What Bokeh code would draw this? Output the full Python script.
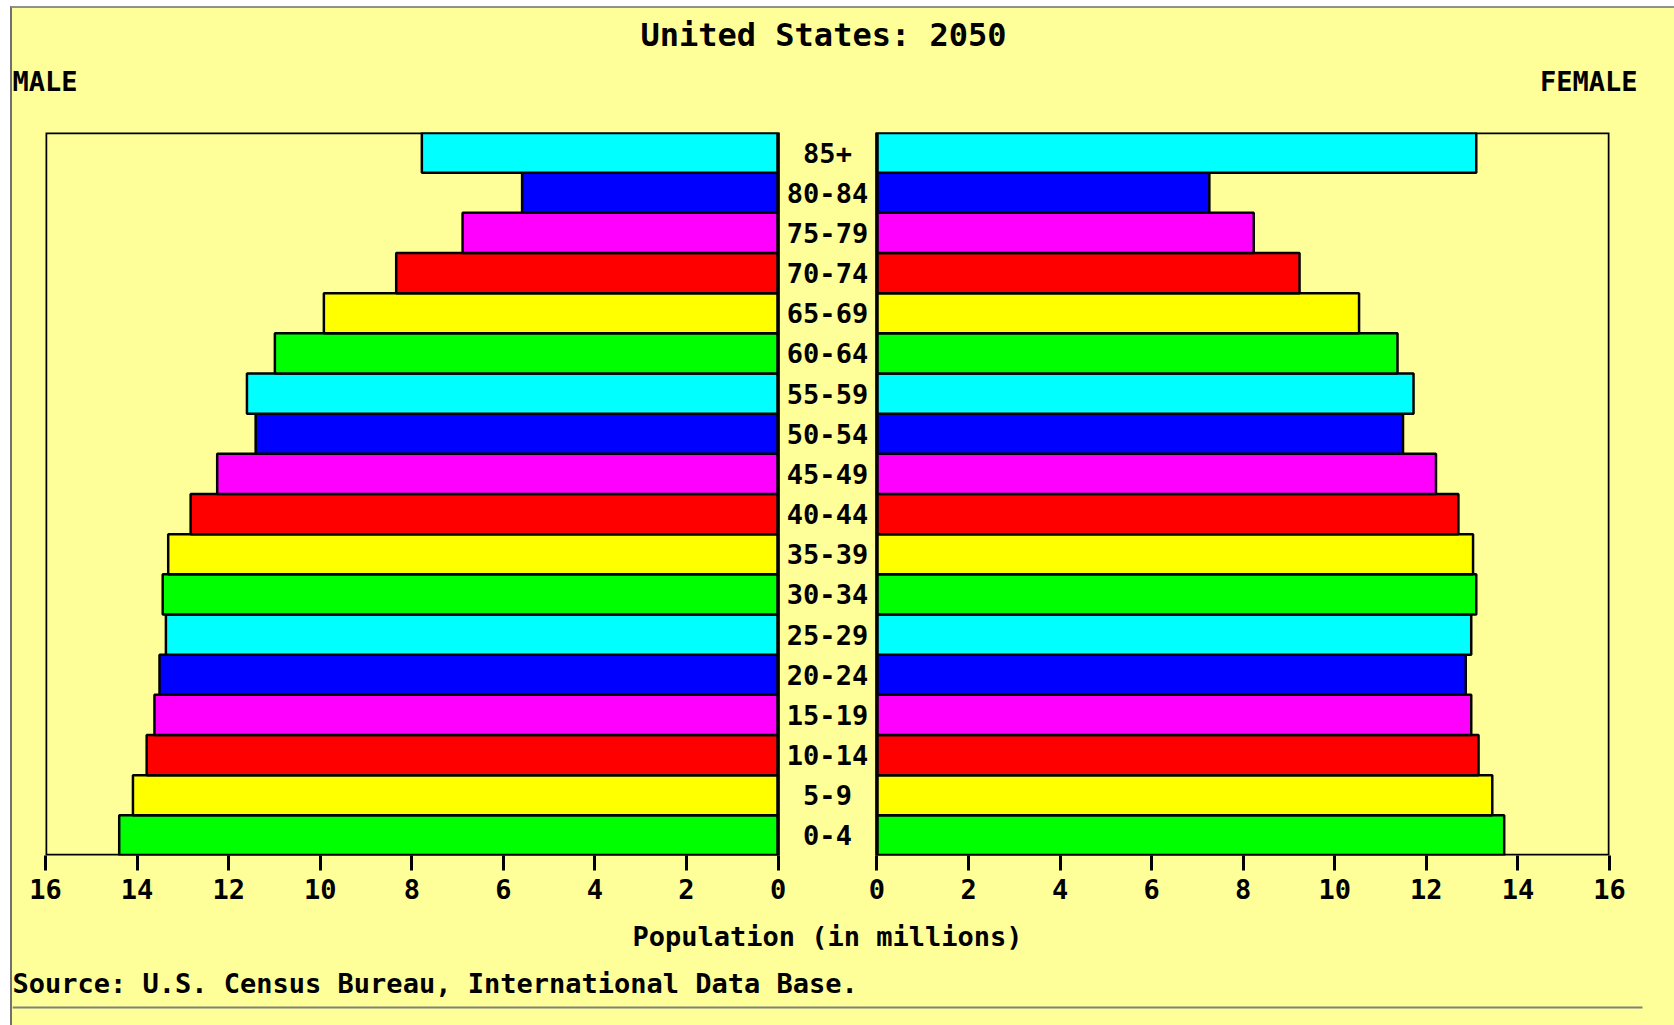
from bokeh.plotting import figure
from bokeh.layouts import column
from bokeh.models import (Range1d, FactorRange, LinearAxis, FixedTicker, CustomJSTickFormatter,
                          BoxAnnotation, ColumnDataSource)
from bokeh.core.properties import value
from bokeh.embed import file_html
from bokeh.resources import INLINE

AGES = ["0-4", "5-9", "10-14", "15-19", "20-24", "25-29", "30-34", "35-39", "40-44",
        "45-49", "50-54", "55-59", "60-64", "65-69", "70-74", "75-79", "80-84", "85+"]
MALE = [14.39, 14.09, 13.79, 13.62, 13.51, 13.37, 13.44, 13.32, 12.83,
        12.25, 11.41, 11.60, 10.99, 9.92, 8.34, 6.89, 5.59, 7.78]
FEMALE = [13.70, 13.44, 13.14, 12.98, 12.86, 12.98, 13.09, 13.02, 12.70,
          12.21, 11.49, 11.72, 11.37, 10.53, 9.23, 8.23, 7.26, 13.09]
PALETTE = ["#00FF00", "#FFFF00", "#FF0000", "#FF00FF", "#0000FF", "#00FFFF"]
COLORS = [PALETTE[i % len(PALETTE)] for i in range(len(AGES))]
TICKS = [0, 2, 4, 6, 8, 10, 12, 14, 16]
TITLE = "United States: 2050"
XLABEL = "Population (in millions)"
SOURCE = "Source: U.S. Census Bureau, International Data Base."

XMAX = 16
GAP = 2.16  # gap between the two halves, in millions-units
BG = "#FFFF99"
FONT = "DejaVu Sans Mono"

W = 1662
HEAD_H, MAIN_H, FOOT_H = 120, 835, 62


def blank(h):
    f = figure(width=W, height=h, output_backend="svg", toolbar_location=None,
               x_range=Range1d(0, W), y_range=Range1d(h, 0),
               x_axis_location=None, y_axis_location=None,
               min_border=0, min_border_left=0, min_border_right=0,
               min_border_top=0, min_border_bottom=0)
    f.frame_align = False
    f.background_fill_color = BG
    f.border_fill_color = BG
    f.outline_line_color = None
    f.grid.visible = False
    return f


def txt(f, x, y, text, size, align):
    f.text(x=[x], y=[y], text=[text], text_align=align, text_baseline="middle",
           text_font=value(FONT), text_font_style="bold", text_font_size=size, text_color="black")


# ---- header -------------------------------------------------------------
head = blank(HEAD_H)
txt(head, 811, 26, TITLE, "32px", "center")
txt(head, 0, 73, "MALE", "27px", "left")
txt(head, 1625, 73, "FEMALE", "27px", "right")

# ---- main pyramid -------------------------------------------------------
p = figure(width=W, height=MAIN_H, output_backend="svg", toolbar_location=None,
           x_range=Range1d(-(XMAX + GAP / 2), XMAX + GAP / 2),
           y_range=FactorRange(*AGES, range_padding=0),
           x_axis_location=None, y_axis_location=None,
           min_border_left=33, min_border_right=65, min_border_top=4, min_border_bottom=108)
p.frame_align = False
p.extra_x_ranges = {
    "male": Range1d(XMAX, -(XMAX + GAP)),
    "female": Range1d(-(XMAX + GAP), XMAX),
}
p.background_fill_color = BG
p.border_fill_color = BG
p.outline_line_color = None
p.grid.visible = False

src = ColumnDataSource(dict(age=AGES, male=MALE, female=FEMALE, color=COLORS))

for rn in ("male", "female"):
    p.add_layout(BoxAnnotation(left=0, right=XMAX, x_range_name=rn, fill_color=None, fill_alpha=0,
                               line_color="black", line_alpha=1.0, line_width=3.5))

p.hbar(y="age", left=0, right="male", height=1.0, source=src, fill_color="color",
       line_color="black", line_width=2.5, x_range_name="male")
p.hbar(y="age", left=0, right="female", height=1.0, source=src, fill_color="color",
       line_color="black", line_width=2.5, x_range_name="female")

p.text(x=0, y="age", text="age", source=src, text_align="center", text_baseline="middle",
       text_font=value(FONT), text_font_style="bold", text_font_size="27px", text_color="black")

tick_pos = [-(GAP / 2 + t) for t in TICKS] + [GAP / 2 + t for t in TICKS]
ax = LinearAxis(ticker=FixedTicker(ticks=tick_pos),
                formatter=CustomJSTickFormatter(args=dict(g=GAP / 2),
                                                code="return String(Math.round(Math.abs(tick) - g));"))
ax.axis_line_color = None
ax.major_tick_out = 15
ax.major_tick_in = 0
ax.major_tick_line_width = 3
ax.minor_tick_line_color = None
ax.major_label_standoff = 8
ax.major_label_text_font = FONT
ax.major_label_text_font_style = "bold"
ax.major_label_text_font_size = "27px"
ax.major_label_text_color = "black"
ax.axis_label = XLABEL
ax.axis_label_standoff = 19
ax.axis_label_text_font = FONT
ax.axis_label_text_font_style = "bold"
ax.axis_label_text_font_size = "27px"
ax.axis_label_text_color = "black"
p.add_layout(ax, "below")

# ---- footer -------------------------------------------------------------
foot = blank(FOOT_H)
txt(foot, 0, 20, SOURCE, "27px", "left")
foot.quad(left=[0], right=[1630], top=[43], bottom=[45], fill_color="#808080", line_color=None)

layout = column(head, p, foot, spacing=0, margin=(6, 0, 0, 10),
                styles={"border-left": "2px solid #707070", "border-top": "2px solid #909090",
                        "background-color": BG})
open("out.html", "w").write(file_html(layout, INLINE))
